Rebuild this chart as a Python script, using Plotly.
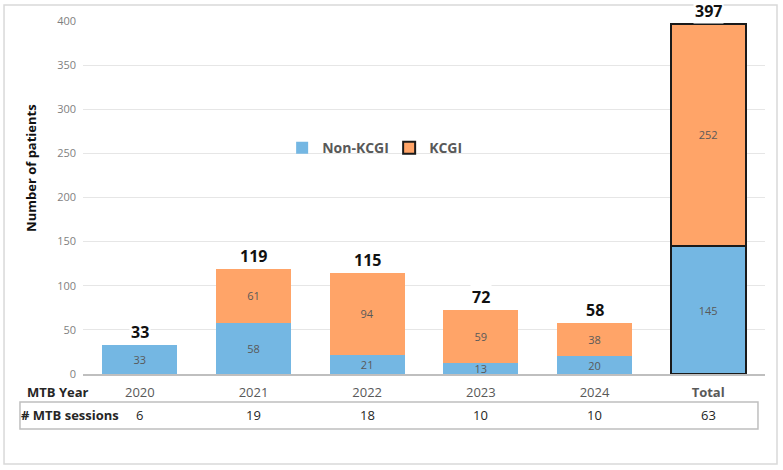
import plotly.graph_objects as go

categories = ["2020", "2021", "2022", "2023", "2024", "Total"]
non_kcgi = [33, 58, 21, 13, 20, 145]
kcgi = [None, 61, 94, 59, 38, 252]
totals = [33, 119, 115, 72, 58, 397]
sessions = [6, 19, 18, 10, 10, 63]
tick_labels = ["2020", "2021", "2022", "2023", "2024", "<b>Total</b>"]

BLUE = "#74B7E3"
ORANGE = "#FFA468"
FONT = "Open Sans"

# border only on the Total bar (and first point of KCGI for its legend key)
blue_lw = [0, 0, 0, 0, 0, 2]
orange_lw = [2, 0, 0, 0, 0, 2]

fig = go.Figure()
fig.add_trace(go.Bar(
    x=categories, y=non_kcgi, name="Non-KCGI",
    marker=dict(color=BLUE, line=dict(color="#1a1a1a", width=blue_lw)),
    text=[str(v) for v in non_kcgi], textposition="inside", insidetextanchor="middle",
    textfont=dict(family=FONT, size=11, color="#595959"), textangle=0,
    constraintext="none",
))
fig.add_trace(go.Bar(
    x=categories, y=kcgi, name="KCGI",
    marker=dict(color=ORANGE, line=dict(color="#1a1a1a", width=orange_lw)),
    text=["" if v is None else str(v) for v in kcgi], textposition="inside",
    insidetextanchor="middle", textangle=0, constraintext="none",
    textfont=dict(family=FONT, size=11, color="#595959"),
))

annotations = []
for i, t in enumerate(totals):
    annotations.append(dict(
        x=i, y=t, xref="x", yref="y", text=f"<b>{t}</b>", showarrow=False,
        yanchor="middle", yshift=13, bgcolor="white", borderpad=1,
        font=dict(family=FONT, size=16, color="#111111"),
    ))

# table row
for i, s in enumerate(sessions):
    annotations.append(dict(
        x=i, y=-0.1175, xref="x", yref="paper", text=str(s), showarrow=False,
        yanchor="middle", font=dict(family=FONT, size=13, color="#262626"),
    ))
annotations.append(dict(
    x=-0.0364, y=-0.051, xref="paper", yref="paper", text="<b>MTB Year</b>",
    showarrow=False, xanchor="center", yanchor="middle",
    font=dict(family=FONT, size=13, color="#262626"),
))
annotations.append(dict(
    x=-0.0190, y=-0.1175, xref="paper", yref="paper", text="<b># MTB sessions</b>",
    showarrow=False, xanchor="center", yanchor="middle",
    font=dict(family=FONT, size=13, color="#262626"),
))
annotations.append(dict(
    x=-0.0762, y=0.584, xref="paper", yref="paper", text="<b>Number of patients</b>",
    showarrow=False, textangle=-90, xanchor="center", yanchor="middle",
    font=dict(family=FONT, size=13, color="#111111"),
))

shapes = [
    dict(type="rect", xref="paper", yref="paper", x0=-0.1158, x1=1.0176,
         y0=-0.255, y1=1.045, line=dict(color="#D9D9D9", width=1.5), layer="below"),
    dict(type="rect", xref="paper", yref="paper", x0=-0.0924, x1=0.9897,
         y0=-0.1558, y1=-0.0793, line=dict(color="#BFBFBF", width=1.5)),
]

fig.update_layout(
    width=783, height=470,
    margin=dict(l=83, r=18, t=21, b=96),
    barmode="stack", bargap=0.34,
    plot_bgcolor="white", paper_bgcolor="white",
    font=dict(family=FONT),
    showlegend=True,
    legend=dict(orientation="h", x=0.292, y=0.64, xanchor="left", yanchor="middle",
                font=dict(family=FONT, size=14, color="#595959", weight="bold"),
                bgcolor="rgba(255,255,255,0)", itemwidth=30, traceorder="normal",
                entrywidth=62),
    xaxis=dict(type="category", range=[-0.5, 5.5], tickvals=categories, ticktext=tick_labels,
               showgrid=False, showline=True, linecolor="#BFBFBF", linewidth=1.5, ticks="",
               tickfont=dict(family=FONT, size=13, color="#595959"), ticklabelstandoff=6),
    yaxis=dict(range=[0, 400], dtick=50, showgrid=True, gridcolor="#E6E6E6",
               gridwidth=1, zeroline=False, ticks="", showline=False,
               tickfont=dict(family=FONT, size=11, color="#7F7F7F"), ticklabelstandoff=6),
    annotations=annotations, shapes=shapes,
)

fig.write_html("out.html")
